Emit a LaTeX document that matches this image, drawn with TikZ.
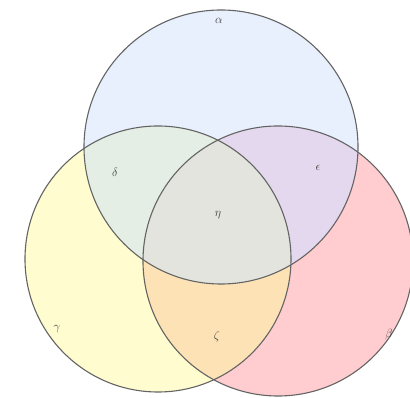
\documentclass[tikz,border=0pt]{standalone}
\usetikzlibrary{positioning}

\definecolor{alphafill}{RGB}{232,240,254}
\definecolor{gammafill}{RGB}{255,252,208}
\definecolor{betafill}{RGB}{255,205,207}
\definecolor{deltafill}{RGB}{229,238,228}
\definecolor{epsfill}{RGB}{228,216,238}
\definecolor{zetafill}{RGB}{253,226,182}
\definecolor{etafill}{RGB}{228,228,222}
\definecolor{rimcol}{RGB}{100,100,100}

\begin{document}
\begin{tikzpicture}[
    x=1pt, y=1pt,           % pixel-like units
    rim/.style={draw=rimcol, line width=1.1pt},
    lbl/.style={font=\large, text=black!75, inner sep=1pt}
]
    \useasboundingbox (0,0) rectangle (410,398);

    % --- 1. centres of the three circles ---
    \coordinate (cAlpha) at (221,251);
    \coordinate (cGamma) at (158,139);
    \coordinate (cBeta)  at (278,137);

    % --- 2. fills (single regions, then overlaps) ---
    \fill [alphafill] (cAlpha) circle (137pt);
    \fill [gammafill] (cGamma) circle (133pt);
    \fill [betafill]  (cBeta)  circle (135pt);
    \begin{scope}
        \clip (cAlpha) circle (137pt);
        \fill [deltafill] (cGamma) circle (133pt);
        \fill [epsfill]   (cBeta)  circle (135pt);
    \end{scope}
    \begin{scope}
        \clip (cGamma) circle (133pt);
        \fill [zetafill] (cBeta) circle (135pt);
    \end{scope}
    \begin{scope}
        \clip (cAlpha) circle (137pt);
        \clip (cGamma) circle (133pt);
        \fill [etafill] (cBeta) circle (135pt);
    \end{scope}

    % --- 3. outlines ---
    \draw [rim] (cAlpha) circle (137pt);
    \draw [rim] (cGamma) circle (133pt);
    \draw [rim] (cBeta)  circle (135pt);

    % --- 4. labels ---
    \node [lbl] (alpha) at (219,377) {$\alpha$};
    \node [lbl] (delta) at (115,226) {$\delta$};
    \node [lbl] (eps)   at (318,230) {$\epsilon$};
    \node [lbl] (eta)   at (218,183) {$\eta$};
    \node [lbl] (gamma) at (57,69)   {$\gamma$};
    \node [lbl] (zeta)  at (217,61)  {$\zeta$};
    \node [lbl] (beta)  at (389,63)  {$\beta$};

\end{tikzpicture}
\end{document}
